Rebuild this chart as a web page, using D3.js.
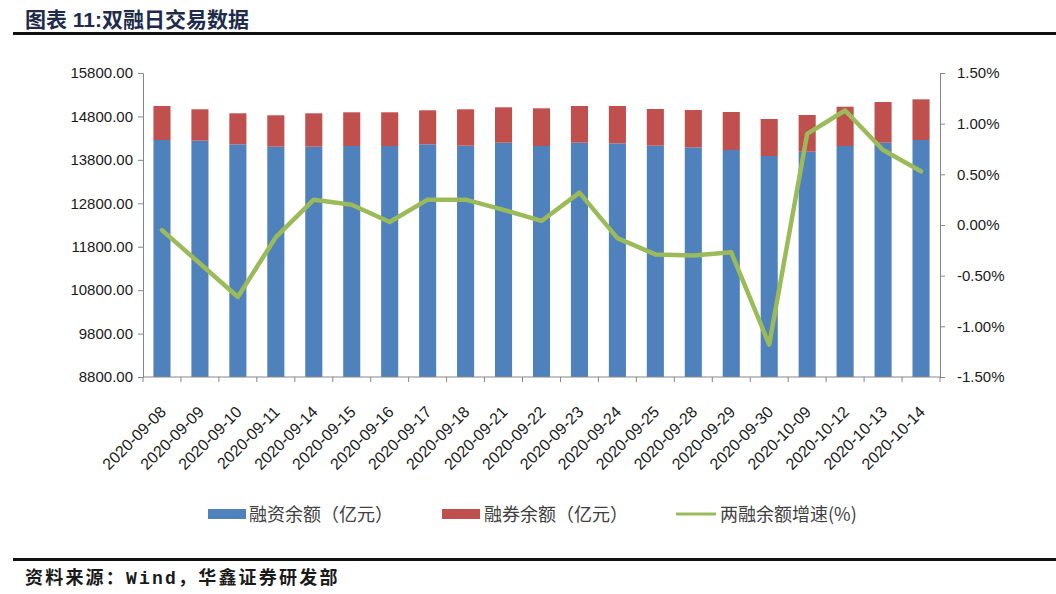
<!DOCTYPE html>
<html><head><meta charset="utf-8">
<script src="https://cdn.jsdelivr.net/npm/d3@7"></script>
<style>
html,body{margin:0;padding:0;background:#fff;}
svg{display:block;}
</style></head>
<body>
<svg id="c" width="1056" height="594"></svg>
<script>
const categories = ["2020-09-08","2020-09-09","2020-09-10","2020-09-11","2020-09-14","2020-09-15","2020-09-16","2020-09-17","2020-09-18","2020-09-21","2020-09-22","2020-09-23","2020-09-24","2020-09-25","2020-09-28","2020-09-29","2020-09-30","2020-10-09","2020-10-12","2020-10-13","2020-10-14"];
const financing = [14257,14241,14158,14103,14103,14119,14119,14158,14126,14195,14119,14195,14180,14126,14088,14027,13889,13988,14119,14195,14257];
const lending = [783,723,714,723,769,776,776,783,838,815,868,845,860,845,860,875,852,845,905,937,937];
const growth = [-0.05,-0.38,-0.71,-0.12,0.25,0.20,0.03,0.25,0.25,0.15,0.04,0.32,-0.13,-0.29,-0.30,-0.27,-1.18,0.90,1.13,0.74,0.53];
const leftTicks = [8800,9800,10800,11800,12800,13800,14800,15800];
const rightTicks = [-1.5,-1.0,-0.5,0,0.5,1.0,1.5];
const title = "图表 11:双融日交易数据";
const source = "资料来源：Wind，华鑫证券研发部";
const legendNames = ["融资余额（亿元）","融券余额（亿元）","两融余额增速(%)"];

const svg = d3.select("#c");
const L = 143, R = 940, T = 73, B = 377;
const colors = {blue:"#4f81bd", red:"#c0504d", green:"#9bbb59"};

const x = d3.scaleBand().domain(categories).range([L,R]).paddingInner(0.55).paddingOuter(0.275);
const yL = d3.scaleLinear().domain([8800,15800]).range([B,T]);
const yR = d3.scaleLinear().domain([-1.5,1.5]).range([B,T]);

// title
svg.append("text").attr("x",25).attr("y",27).text(title)
  .attr("font-family","'Liberation Sans','Noto Sans CJK SC',sans-serif").attr("font-weight","bold")
  .attr("font-size",21).attr("fill","#1e2b4a");
svg.append("rect").attr("x",13).attr("y",32).attr("width",1043).attr("height",3).attr("fill","#111");

// bars
const data = categories.map((c,i)=>({c, f:financing[i], l:lending[i], g:growth[i]}));
const bw = x.bandwidth();
svg.append("g").selectAll("rect").data(data).join("rect")
  .attr("x",d=>x(d.c)).attr("width",bw)
  .attr("y",d=>yL(d.f)).attr("height",d=>yL(8800)-yL(d.f)).attr("fill",colors.blue);
svg.append("g").selectAll("rect").data(data).join("rect")
  .attr("x",d=>x(d.c)).attr("width",bw)
  .attr("y",d=>yL(d.f+d.l)).attr("height",d=>yL(d.f)-yL(d.f+d.l)).attr("fill",colors.red);

// line
const line = d3.line().x(d=>x(d.c)+bw/2).y(d=>yR(d.g));
svg.append("path").datum(data).attr("d",line).attr("fill","none")
  .attr("stroke",colors.green).attr("stroke-width",4.5).attr("stroke-linejoin","round").attr("stroke-linecap","round");

// axes
const axisColor = "#868686";
const fontAxis = "'Liberation Sans',Arial,sans-serif";
const gl = svg.append("g").attr("transform",`translate(${L},0)`)
  .call(d3.axisLeft(yL).tickValues(leftTicks).tickFormat(d=>d.toFixed(2)).tickSizeOuter(0).tickSize(5).tickPadding(5));
const gr = svg.append("g").attr("transform",`translate(${R},0)`)
  .call(d3.axisRight(yR).tickValues(rightTicks).tickFormat(d=>d.toFixed(2)+"%").tickSizeOuter(0).tickSize(5).tickPadding(12));
[gl,gr].forEach(g=>{
  g.selectAll("path,line").attr("stroke",axisColor);
  g.selectAll("text").attr("font-family",fontAxis).attr("font-size",15).attr("fill","#1a1a1a");
});

// x axis
const gx = svg.append("g");
gx.append("line").attr("x1",L).attr("x2",R).attr("y1",B).attr("y2",B).attr("stroke",axisColor);
const step = x.step();
const bounds = categories.map(c=>x(c)-(step-bw)/2).concat([R]);
gx.selectAll("line.t").data(bounds).join("line").attr("class","t")
  .attr("x1",d=>d).attr("x2",d=>d).attr("y1",B).attr("y2",B+5).attr("stroke",axisColor);
gx.selectAll("text").data(categories).join("text")
  .attr("transform",c=>`translate(${x(c)+bw/2+5},${B+36}) rotate(-45)`)
  .attr("text-anchor","end").attr("font-family",fontAxis).attr("font-size",16).attr("fill","#1a1a1a")
  .text(c=>c);

// legend
const lg = svg.append("g");
const lf = "'Noto Sans CJK SC',sans-serif";
lg.append("rect").attr("x",208).attr("y",509).attr("width",38).attr("height",10).attr("fill",colors.blue);
lg.append("text").attr("x",249).attr("y",521).text(legendNames[0]);
lg.append("rect").attr("x",442).attr("y",509).attr("width",38).attr("height",10).attr("fill",colors.red);
lg.append("text").attr("x",484).attr("y",521).text(legendNames[1]);
lg.append("line").attr("x1",676).attr("x2",716).attr("y1",514).attr("y2",514).attr("stroke",colors.green).attr("stroke-width",3);
lg.append("text").attr("x",720).attr("y",521).text(legendNames[2]);
lg.selectAll("text").attr("font-family",lf).attr("font-size",18).attr("fill","#404040");

// footer
svg.append("rect").attr("x",13).attr("y",558).attr("width",1043).attr("height",3).attr("fill","#111");
svg.append("text").attr("x",25).attr("y",584).text(source)
  .attr("font-family","'Liberation Mono','Noto Sans CJK SC',monospace").attr("font-weight","bold")
  .attr("font-size",18).attr("letter-spacing",2.2).attr("fill","#1a1a1a");
</script>
</body></html>
